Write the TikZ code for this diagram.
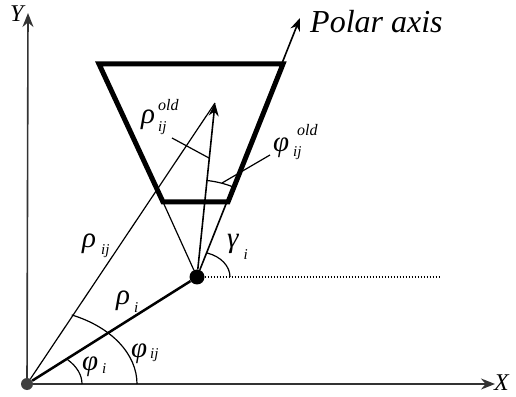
\documentclass[tikz,border=0pt]{standalone}
\usepackage{fontspec}
\setmainfont{Liberation Serif}
\newfontfamily\lserif{Liberation Serif}
\usetikzlibrary{arrows.meta}

% subindices y superindices
\newcommand\subf{\fontsize{15}{15}\selectfont}
\newcommand\supf{\fontsize{16}{16}\selectfont}
\newcommand\gsym[6]{#1\hspace{#2}\rlap{\raisebox{#6}{\supf #5}}\raisebox{-#4}{\subf #3}}

\begin{document}
\begin{tikzpicture}[
            x=1pt, y=1pt,
            every node/.style={
                inner sep=0pt,
                anchor=base west,
                font=\lserif\itshape\fontsize{29}{29}\selectfont
            },
            dot/.style={
                circle,
                fill=black,
                minimum size=15pt,
                anchor=center
            },
            eje/.style={draw=black!80, line width=1.6pt, -{Stealth[length=14pt,width=11pt]}},
            flecha/.style={line width=1.6pt, -{Stealth[length=13pt,width=10pt]}},
            fina/.style={line width=1.2pt},
            arco/.style={line width=1.2pt}
        ]
        \useasboundingbox (0,0) rectangle (516,396);

        % Puntos
        \node[dot, fill=black!75, minimum size=12pt] (O) at (27,12) {};
        \node[dot]                                   (R) at (197,119) {};
        \coordinate (T)  at (215,293);
        \coordinate (P)  at (300,378);
        \coordinate (D)  at (439,119);
        \coordinate (ytip) at (28,383);
        \coordinate (xtip) at (495,12);

        % Trapecio
        \coordinate (TL) at (99,332);
        \coordinate (TR) at (283,332);
        \coordinate (BR) at (228,194);
        \coordinate (BL) at (163,194);
        \draw[line width=5pt] (TL) -- (TR) -- (BR) -- (BL) -- cycle;

        % Ejes
        \draw[eje] (O) -- (ytip);
        \draw[eje] (O) -- (xtip);

        % Segmentos
        \draw[line width=2.5pt] (O) -- (R);
        \draw[fina] (O) -- (T);
        \draw[fina] (R) -- (BL);
        \draw[flecha] (R) -- (T);
        \draw[flecha] (R) -- (P);
        \draw[line width=1.5pt, dash pattern=on 1.5pt off 1.5pt] (R) -- (D);

        % Angulos
        \draw[arco] (O.center) ++(55,0) arc[start angle=0, end angle=42, x radius=55, y radius=36];
        \draw[arco] (O.center) ++(110,0) arc[start angle=0, end angle=66, x radius=110, y radius=75.6];
        \draw[arco] (R.center) ++(33,0) arc[start angle=0, end angle=72.4, x radius=33, y radius=25.2];
        \draw[arco] (R.center) ++(68.3:97) arc[start angle=68.3, end angle=84.1, radius=97];

        % Etiquetas
        \node (lrhoold) at (141,272) {\gsym{ρ}{3pt}{ij}{8pt}{old}{13pt}};
        \node (lphiold) at (273,244) {\gsym{φ}{4pt}{ij}{5pt}{\hspace{4pt}old}{16pt}};
        \node (lrhoij)  at (82,148.5) {\gsym{ρ}{5pt}{ij}{7.5pt}{}{0pt}};
        \node (lrhoi)   at (116,91.5) {\gsym{ρ}{4pt}{i}{8.5pt}{}{0pt}};
        \node (lphii)   at (82,26) {\gsym{φ}{4pt}{i}{3pt}{}{0pt}};
        \node (lphiij)  at (131,39) {\gsym{φ}{3pt}{ij}{2pt}{}{0pt}};
        \node (lgam)    at (227,148) {\gsym{γ}{5pt}{i}{12pt}{}{0pt}};
        \node[font=\lserif\itshape\fontsize{24}{24}\selectfont] (ly) at (10,374) {Y};
        \node[font=\lserif\itshape\fontsize{24}{24}\selectfont] (lx) at (494,6) {X};
        \node[font=\lserif\itshape\fontsize{32}{32}\selectfont] (lpolar) at (310,363) {Polar axis};

        % Lineas guia
        \coordinate (kold) at (209,238);
        \coordinate (kphi) at (222,213);
        \draw[fina] (172,258) coordinate (sold) -- (kold);
        \draw[fina] (270,241) coordinate (sphi) -- (kphi);

        \end{tikzpicture}
\end{document}
